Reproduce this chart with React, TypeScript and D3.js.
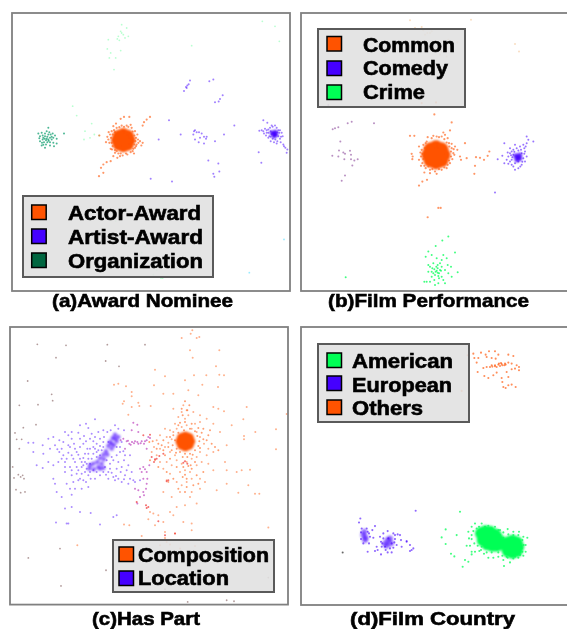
import React from "react";
import * as d3 from "d3";

type P = number[];
const ORANGE = "#ff5200", BLUE = "#4400ff", GREEN = "#00ff55", TEAL = "#006640";

// ---------- (a) Award Nominee ----------
const aActorCore: P[] = [[370,404],[383,409],[388,422],[383,435],[370,440],[357,435],[352,422],[357,409],[370,422]];
const aActor: P[] = [[325,420],[330,405],[335,395],[338,440],[332,448],[345,460],[355,462],[368,468],[382,465],[398,455],[405,445],[410,435],[415,430],[428,430],[408,415],[412,405],[405,395],[395,385],[380,378],[365,378],[350,385],[342,392],[318,428],[322,412],[340,470],[352,475],[332,485],[320,488],[310,495],[303,505],[310,520],[297,530],[450,352],[440,360],[432,368],[428,378],[388,352],[372,352],[362,358],[348,372],[298,408],[420,425],[402,462],[360,470],[333,415],[328,430],[336,450],[345,452],[392,458],[400,448],[403,435],[406,425],[403,408],[398,396],[385,382],[372,382],[358,383],[345,398],[338,405],[335,430],[378,462],[362,462],[350,455],[408,440],[414,420],[340,380],[392,376],[326,398],[424,438]];
const aArtistCore: P[] = [[822,403],[816,400],[828,406],[822,410],[826,398]];
const aArtist: P[] = [[800,392],[805,400],[795,388],[790,395],[785,392],[810,385],[818,382],[830,385],[840,392],[845,400],[848,410],[840,418],[832,425],[822,428],[812,425],[805,415],[798,408],[808,410],[835,410],[842,428],[850,435],[856,445],[862,450],[860,460],[852,440],[790,362],[802,370],[776,458],[784,490],[815,378],[825,378],[778,394],[830,432],[812,395],[805,390],[838,400],[835,392],[812,412],[818,418],[826,420],[843,412],[800,400],[792,402],[815,405],[832,398],[562,258],[566,254],[560,265],[558,262],[570,243],[552,274],[628,245],[640,240],[668,287],[660,298],[645,308],[656,306],[507,362],[703,378],[585,392],[590,398],[597,398],[580,405],[605,402],[600,415],[612,412],[620,412],[585,420],[596,428],[612,432],[618,418],[582,395],[542,405],[476,420],[672,405],[645,425],[625,483],[655,492],[640,523],[658,516],[643,532],[452,538],[516,546]];
const aOrg: P[] = [[140,418],[135,410],[145,405],[150,415],[128,420],[132,428],[142,428],[150,428],[155,420],[120,410],[115,402],[125,400],[140,395],[145,385],[158,402],[165,408],[170,418],[160,430],[150,438],[135,445],[125,438],[120,425],[135,402],[148,398],[155,412],[138,435],[130,415],[145,420],[192,402],[162,440],[128,408],[118,416],[170,432],[138,422],[142,412],[134,418],[146,424],[130,436],[152,405],[126,430],[160,415]];
const aFaint: P[] = [[365,100],[355,110],[375,115],[362,95],[370,105],[380,85],[365,75],[358,122],[352,118],[385,110],[325,120],[322,148],[362,153],[332,160],[328,175],[347,175],[342,210],[575,138],[787,65],[825,80],[838,125],[218,320],[230,348],[275,372],[255,395],[252,420],[283,405],[297,408],[270,415],[375,740],[385,740],[428,735],[435,742],[425,760],[347,665],[403,803],[470,812],[460,826],[483,836],[488,836]];
const aCyan: P[] = [[852,720],[748,820]];

// ---------- (b) Film Performance ----------
const bCommonCore: P[] = [[423,443],[439,449],[445,465],[439,481],[423,487],[407,481],[401,465],[407,449],[423,465]];
const bCommon: P[] = [[380,450],[378,470],[382,490],[392,505],[405,510],[420,515],[440,510],[455,505],[465,490],[472,478],[475,460],[470,445],[462,430],[458,415],[450,405],[440,410],[425,410],[410,415],[395,425],[385,435],[372,480],[378,498],[350,462],[353,470],[358,408],[345,408],[470,368],[465,392],[480,440],[487,450],[510,430],[418,344],[423,308],[380,310],[495,470],[515,475],[498,480],[543,472],[555,474],[540,498],[538,522],[567,480],[578,468],[583,455],[396,540],[382,545],[372,557],[430,624],[437,624],[398,652],[478,465],[372,440],[352,478],[388,518],[382,462],[385,478],[388,498],[398,412],[415,408],[432,412],[448,418],[455,428],[463,440],[468,455],[468,470],[462,482],[458,495],[448,503],[432,508],[412,508],[400,500],[390,445],[392,430],[376,458],[470,432],[445,398],[476,448],[405,520],[425,522]];
const bComedyCore: P[] = [[668,472],[662,468],[674,476],[666,480],[674,466]];
const bComedy: P[] = [[640,470],[645,460],[650,455],[655,450],[665,445],[675,440],[685,435],[695,430],[700,420],[695,410],[715,425],[690,455],[695,470],[690,485],[680,495],[670,505],[660,510],[650,495],[645,485],[635,480],[622,468],[608,478],[628,430],[645,445],[680,460],[660,490],[670,485],[685,475],[650,480],[655,465],[678,450],[600,578],[640,492],[660,435],[688,445],[652,472],[648,466],[658,456],[682,486],[688,462],[676,500],[655,500],[670,452],[692,440],[638,458],[628,490]];
const bCrime: P[] = [[425,812],[418,808],[432,820],[410,815],[440,800],[435,790],[440,780],[428,795],[420,825],[405,800],[400,815],[410,830],[395,845],[388,845],[420,855],[430,850],[445,840],[460,820],[470,830],[488,817],[458,795],[455,775],[480,758],[460,710],[442,722],[422,738],[400,755],[392,770],[410,765],[400,795],[415,790],[425,775],[445,765],[450,810],[440,830],[418,840],[432,835],[405,845],[450,850],[468,800],[152,832],[428,805],[415,820],[435,810],[422,815],[428,818],[412,805],[438,812],[424,800],[430,828]];
const bMauve: P[] = [[145,458],[150,462],[132,452],[165,453],[168,465],[112,468],[130,470],[148,478],[168,478],[178,482],[188,478],[172,497],[150,527],[140,543],[136,425],[113,388],[120,385],[130,382],[158,370],[170,366],[237,370],[100,316]];
const bTan: P[] = [[397,100],[390,105],[405,100],[385,92],[380,82],[410,95],[360,85],[345,62],[528,60],[460,120],[487,128],[440,155],[435,165],[455,170],[660,133],[672,155]];

// ---------- (c) Has Part ----------
const cCompCore: P[] = [[556,364],[566,368],[570,378],[566,388],[556,392],[546,388],[542,378],[546,368],[556,378]];
const cComp: P[] = [[577,45],[572,55],[545,68],[590,68],[598,65],[570,105],[658,105],[578,127],[648,153],[465,163],[495,183],[582,180],[619,180],[658,178],[672,180],[555,195],[607,208],[654,215],[462,210],[490,235],[520,235],[565,225],[595,240],[395,230],[395,243],[378,213],[355,205],[342,208],[372,258],[368,265],[385,298],[415,262],[418,272],[395,275],[452,272],[520,280],[550,270],[560,285],[580,290],[600,300],[640,275],[655,280],[672,288],[740,275],[860,296],[730,312],[695,330],[828,342],[766,350],[732,362],[732,372],[828,402],[680,390],[660,350],[640,325],[620,310],[600,320],[585,325],[565,300],[555,310],[545,290],[535,305],[525,325],[510,345],[495,340],[480,360],[470,375],[462,395],[455,410],[470,420],[480,400],[495,395],[510,410],[525,420],[500,365],[515,372],[505,382],[520,350],[530,340],[545,335],[560,330],[575,340],[590,350],[600,365],[612,385],[625,400],[640,410],[620,420],[600,410],[590,425],[575,430],[560,440],[545,445],[530,435],[515,450],[500,440],[480,440],[465,435],[490,460],[510,475],[540,470],[555,465],[570,470],[590,450],[605,440],[625,445],[640,465],[675,440],[680,465],[710,470],[725,465],[750,463],[600,490],[615,500],[600,520],[575,490],[560,500],[545,510],[530,500],[505,500],[500,495],[490,530],[540,530],[575,530],[590,565],[570,545],[650,525],[680,505],[715,532],[765,535],[778,535],[745,510],[515,545],[530,575],[555,570],[510,590],[520,600],[550,620],[575,625],[575,645],[525,655],[495,650],[495,668],[490,620],[475,600],[460,595],[450,590],[445,612],[465,630],[425,662],[372,628],[388,630],[232,690],[805,637],[480,690],[510,688],[540,700],[585,692],[500,680]];
const cCompNear: P[] = [[520,360],[525,375],[518,390],[530,400],[540,410],[555,415],[570,415],[585,405],[595,392],[598,378],[592,362],[585,348],[570,340],[552,345],[535,352],[510,365],[505,395],[515,405],[528,412],[548,425],[562,425],[578,418],[600,398],[610,372],[605,352],[595,338],[575,325],[555,320],[540,322],[548,300],[562,285],[568,270],[555,258],[545,280],[535,330],[490,375],[485,390],[475,385],[458,378],[448,380],[495,420],[510,430],[530,455],[550,455],[565,452],[555,478],[560,490],[548,485],[572,450],[585,440],[575,460],[620,375],[635,385],[625,360],[610,340],[630,345],[645,395],[655,405],[470,400],[490,405],[450,435],[475,455],[500,470],[520,490],[535,520],[555,530],[560,515],[580,510],[595,505],[590,480],[610,470]];
const cCompRed: P[] = [[455,425],[462,440],[470,430],[490,415],[500,498],[445,575],[438,570],[440,578],[410,560],[475,618],[525,655],[430,360],[450,358],[495,660],[465,432],[478,422],[505,495],[555,438],[562,445],[550,442]];
const cLocCore: P[] = [[345,358],[355,365],[338,368],[350,378],[330,380],[342,390],[325,392],[335,400],[318,408],[310,418],[322,418],[300,428],[312,432],[292,440],[305,445],[280,445],[295,455],[270,450],[268,460],[282,462],[300,460],[310,458],[345,370],[335,385]];
const cLoc: P[] = [[100,382],[85,382],[128,390],[145,370],[160,365],[165,390],[195,350],[215,350],[240,330],[258,325],[285,312],[265,338],[215,370],[205,390],[185,400],[172,402],[130,415],[100,410],[110,450],[128,458],[145,440],[160,450],[185,430],[200,430],[215,420],[230,410],[240,395],[250,385],[270,370],[285,365],[300,370],[310,380],[290,385],[270,400],[255,415],[240,430],[225,440],[210,455],[195,470],[215,480],[235,465],[250,450],[265,430],[280,415],[295,405],[310,395],[345,330],[355,340],[372,345],[360,410],[375,420],[390,420],[350,420],[340,435],[330,445],[350,460],[365,455],[380,465],[395,470],[375,480],[355,490],[340,485],[325,470],[310,470],[300,480],[285,490],[265,480],[250,495],[235,495],[225,520],[210,520],[185,545],[215,538],[245,520],[265,515],[325,490],[345,495],[365,500],[385,505],[400,495],[420,495],[165,505],[170,530],[215,575],[195,580],[240,590],[272,593],[168,622],[200,625],[205,625],[340,605],[350,600],[300,628],[260,460],[245,475],[280,465],[270,470],[315,455],[330,460],[300,420],[290,425],[270,445],[255,440],[245,455],[262,400],[350,395],[365,380],[322,350],[310,345],[215,465],[230,455],[160,490],[195,440],[225,400]];
const cLocNear: P[] = [[205,360],[235,352],[252,362],[275,355],[295,350],[240,370],[222,385],[258,378],[280,378],[300,392],[285,400],[265,415],[250,428],[235,418],[220,430],[205,412],[190,420],[178,410],[245,440],[230,475],[255,470],[272,490],[290,470],[318,478],[335,472],[348,482],[362,470],[372,492],[390,490],[405,500],[320,435],[335,425],[355,440],[372,435],[385,450],[325,380],[312,365],[332,345],[360,395],[370,408],[290,410],[275,430],[260,445],[240,490],[220,500],[200,505],[258,500],[195,455],[175,440],[150,400],[210,395],[190,380],[178,375],[305,405],[280,395]];
const cMix: P[] = [[380,378],[388,385],[396,380],[405,378],[415,385],[425,378],[432,385],[440,375],[450,368],[400,322],[412,328],[415,350],[395,345],[440,400],[430,455],[440,470],[425,470],[448,450],[415,525],[430,530],[440,505],[438,520],[405,520],[420,545],[432,540],[412,565],[375,400],[384,376],[392,388],[402,384],[412,380],[422,384],[435,378],[362,375],[370,370],[445,365],[420,460],[435,462],[430,490],[442,490]];
const cGray: P[] = [[112,87],[198,90],[322,88],[435,88],[168,127],[317,137],[357,153],[83,197],[155,237],[158,256],[58,270],[114,268],[108,328],[70,337],[45,353],[50,372],[65,372],[58,400],[38,455],[55,478],[62,485],[68,480],[72,490],[42,488],[48,523],[62,532],[75,530],[180,700],[85,728],[183,812],[318,765],[805,787],[680,830],[680,855],[702,858],[563,860],[495,822]];

// ---------- (d) Film Country ----------
const dAmericanCore: P[] = [[560,655],[572,650],[585,652],[600,660],[610,675],[605,690],[592,690],[578,686],[565,675],[585,668],[575,665],[597,675],[652,679],[664,683],[668,695],[664,707],[652,711],[640,707],[636,695],[640,683],[652,695]];
const dAmerican: P[] = [[520,650],[530,635],[545,640],[540,625],[560,625],[580,632],[600,635],[615,645],[638,642],[655,650],[672,650],[685,665],[697,668],[692,690],[692,710],[685,722],[670,728],[645,742],[625,735],[627,753],[610,725],[595,728],[580,728],[567,716],[553,708],[540,710],[530,718],[525,692],[515,692],[522,670],[530,660],[605,700],[625,668],[615,660],[495,590],[452,643],[440,667],[485,660],[452,687],[468,716],[478,724],[510,735],[520,740],[503,755],[655,730],[635,725],[530,710],[560,695],[548,655],[680,700],[535,648],[530,672],[538,685],[548,692],[558,705],[575,712],[590,712],[610,712],[622,722],[638,728],[660,725],[675,720],[682,710],[686,690],[682,675],[670,660],[655,660],[640,658],[625,652],[610,645],[590,640],[570,635],[552,635]];
const dEuropeanCore: P[] = [[208,650],[205,660],[212,668],[210,675],[278,675],[270,685],[285,670],[275,692],[288,685]];
const dEuropean: P[] = [[196,610],[192,622],[200,640],[215,640],[240,633],[232,645],[222,655],[235,668],[198,672],[205,685],[222,685],[218,710],[240,708],[245,695],[258,680],[255,665],[265,655],[278,648],[295,655],[308,658],[300,672],[318,675],[335,680],[345,690],[355,700],[345,708],[320,695],[305,690],[295,698],[290,712],[272,705],[258,718],[280,670],[265,670],[290,685],[270,695],[362,587],[335,678],[315,660],[350,705],[198,652],[218,650],[225,665],[262,685],[298,682],[285,700],[278,712],[300,660],[260,695],[248,705]];
const dOthers: P[] = [[518,120],[535,115],[558,112],[572,118],[582,108],[600,108],[610,118],[640,118],[655,122],[538,128],[550,128],[575,125],[590,128],[602,130],[545,142],[565,158],[575,155],[590,150],[600,150],[610,148],[620,146],[630,145],[640,142],[628,150],[615,152],[605,155],[585,155],[650,145],[665,150],[672,155],[660,160],[650,162],[635,170],[640,185],[620,188],[605,172],[595,180],[580,188],[568,182],[548,170],[500,227],[625,215],[640,210],[650,208],[662,215],[622,200],[632,218],[672,165],[612,145],[622,150],[632,148],[618,143],[600,153],[592,154]];
const dGray: P[] = [[143,712]];

// ---------- panels ----------
type Series = { pts: P[]; color: string; r: number; op: number; core?: boolean };
type Panel = { dom: number[]; rng: number[]; series: Series[] };
const panels: Panel[] = [
  { dom: [36,870,40,875], rng: [12,290,13,291], series: [
    { pts: aFaint, color: GREEN, r: .9, op: .28 }, { pts: aCyan, color: "#55ddff", r: .9, op: .6 },
    { pts: aOrg, color: "#009966", r: 1, op: .7 }, { pts: aArtist, color: BLUE, r: 1, op: .5 },
    { pts: aActor, color: ORANGE, r: 1.1, op: .6 }, { pts: aActorCore, color: ORANGE, r: 6.2, op: 1, core: true },
    { pts: aArtistCore, color: BLUE, r: 2.4, op: .9, core: true } ] },
  { dom: [18,849,40,873], rng: [301,578,13,291], series: [
    { pts: bTan, color: "#eeaa66", r: 1, op: .4 }, { pts: bMauve, color: "#884499", r: 1, op: .6 },
    { pts: bCrime, color: GREEN, r: 1, op: .75 }, { pts: bComedy, color: BLUE, r: 1, op: .55 },
    { pts: bCommon, color: ORANGE, r: 1.1, op: .6 }, { pts: bCommonCore, color: ORANGE, r: 7.2, op: 1, core: true },
    { pts: bComedyCore, color: BLUE, r: 2.6, op: .8, core: true } ] },
  { dom: [30,864,35,868], rng: [10,288,327,604.6], series: [
    { pts: cGray, color: "#886666", r: .9, op: .65 }, { pts: cLoc, color: BLUE, r: 1, op: .45 },
    { pts: cLocNear, color: BLUE, r: 1, op: .45 },
    { pts: cMix, color: "#aa10aa", r: 1, op: .55 }, { pts: cComp, color: ORANGE, r: 1, op: .45 },
    { pts: cCompNear, color: ORANGE, r: 1, op: .55 },
    { pts: cCompRed, color: "#ee2222", r: 1, op: .65 }, { pts: cCompCore, color: ORANGE, r: 5.2, op: 1, core: true },
    { pts: cLocCore, color: BLUE, r: 2.2, op: .6, core: true } ] },
  { dom: [18,849,35,870], rng: [301,578,327,605], series: [
    { pts: dGray, color: "#555555", r: 1, op: .9 }, { pts: dOthers, color: ORANGE, r: 1.05, op: .65 },
    { pts: dEuropean, color: BLUE, r: 1.05, op: .6 }, { pts: dEuropeanCore, color: BLUE, r: 3, op: .55, core: true },
    { pts: dAmerican, color: GREEN, r: 1.05, op: .75 }, { pts: dAmericanCore, color: GREEN, r: 6.6, op: 1, core: true } ] },
];

const legends = [
  { box: [23,196,190,81], sw: 31.7, text: 68, items: [["Actor-Award",ORANGE,205,220,133],["Artist-Award",BLUE,229,244,135],["Organization",TEAL,253,268,135]] },
  { box: [318,29,147,78], sw: 327, text: 363, items: [["Common",ORANGE,36.5,52,92],["Comedy",BLUE,61,75,85],["Crime",GREEN,85,99,62]] },
  { box: [113,540,161,52], sw: 119, text: 138, items: [["Composition",ORANGE,547,562,131],["Location",BLUE,571,585,91]] },
  { box: [318,344,151,78], sw: 327, text: 352, items: [["American",GREEN,353,368,101],["European",BLUE,376,392,100],["Others",ORANGE,400,415,71]] },
] as const;

const titles: [string, number, number, number][] = [
  ["(a)Award Nominee", 52, 307, 181],
  ["(b)Film Performance", 328, 307, 201],
  ["(c)Has Part", 92, 625, 108],
  ["(d)Film Country", 350, 625, 165],
];

const FONT = "'Liberation Sans', Arial, sans-serif";

export default function App() {
  return (
    <svg width={567} height={629} style={{ position: "absolute", left: 0, top: 0, background: "#fff" }}>
      <defs>
        <filter id="soft" x="-5%" y="-5%" width="110%" height="110%"><feGaussianBlur stdDeviation="0.4" /></filter>
        <filter id="coreSoft" x="-30%" y="-30%" width="160%" height="160%"><feGaussianBlur stdDeviation="1.1" /></filter>
        {panels.map((p, i) => (
          <clipPath id={`c${i}`} key={i}>
            <rect x={p.rng[0]} y={p.rng[2]} width={p.rng[1]-p.rng[0]} height={p.rng[3]-p.rng[2]} />
          </clipPath>
        ))}
      </defs>
      <g filter="url(#soft)">
        {panels.map((p, i) => {
          const x = d3.scaleLinear().domain([p.dom[0], p.dom[1]]).range([p.rng[0], p.rng[1]]);
          const y = d3.scaleLinear().domain([p.dom[2], p.dom[3]]).range([p.rng[2], p.rng[3]]);
          return (
            <g key={i}>
              <g clipPath={`url(#c${i})`}>
                {p.series.map((s, j) => (
                  <g key={j} fill={s.color} fillOpacity={s.op} filter={s.core ? "url(#coreSoft)" : undefined}>
                    {s.pts.map((d, k) => <circle key={k} cx={x(d[0])} cy={y(d[1])} r={s.r} />)}
                  </g>
                ))}
              </g>
              <rect x={p.rng[0]} y={p.rng[2]} width={p.rng[1]-p.rng[0]} height={p.rng[3]-p.rng[2]} fill="none" stroke="#808080" strokeWidth={1.8} />
            </g>
          );
        })}
        {legends.map((l, i) => (
          <g key={i}>
            <rect x={l.box[0]} y={l.box[1]} width={l.box[2]} height={l.box[3]} fill="#e0e0e0" fillOpacity={0.88} stroke="#5a5a5a" strokeWidth={2} />
            {l.items.map(([t, c, sy, by, w]) => (
              <g key={t as string}>
                <rect x={l.sw} y={sy as number} width={14.5} height={14.5} fill={c as string} stroke="#000" strokeWidth={1.5} />
                <text x={l.text} y={by as number} fontFamily={FONT} fontWeight="bold" fontSize={19.5} fill="#000" stroke="#000" strokeWidth={0.6}
                  textLength={w as number} lengthAdjust="spacingAndGlyphs">{t as string}</text>
              </g>
            ))}
          </g>
        ))}
        {titles.map(([t, tx, ty, w]) => (
          <text key={t} x={tx} y={ty} fontFamily={FONT} fontWeight="bold" fontSize={19} fill="#000" stroke="#000" strokeWidth={0.6}
            textLength={w} lengthAdjust="spacingAndGlyphs">{t}</text>
        ))}
      </g>
    </svg>
  );
}
